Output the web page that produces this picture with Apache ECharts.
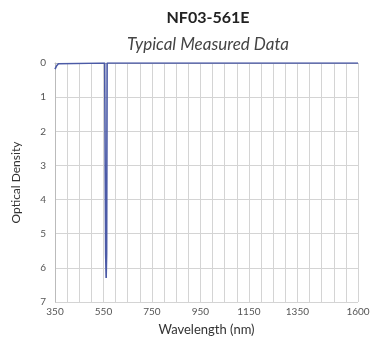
<!DOCTYPE html>
<html>
<head>
<meta charset="utf-8">
<script src="https://cdn.jsdelivr.net/npm/echarts@6/dist/echarts.min.js"></script>
<style>
  html, body { margin: 0; padding: 0; background: #fff; }
  #main { width: 373px; height: 343px; }
</style>
</head>
<body>
<div id="main"></div>
<script>
// data
var wavelength = [350, 353, 356, 360, 364, 368, 555, 557, 559, 561, 563, 565, 1600];
var od = [0.18, 0.13, 0.09, 0.05, 0.02, 0, 0, 3.0, 5.6, 6.3, 5.6, 0, 0];
var xLabels = [350, 550, 750, 950, 1150, 1350, 1600];

var pts = [];
for (var i = 0; i < wavelength.length; i++) {
  pts.push([wavelength[i], od[i]]);
}

var chart = echarts.init(document.getElementById('main'));
chart.setOption({
  animation: false,
  textStyle: { fontFamily: 'Lato, "Noto Sans", sans-serif' },
  title: [
    {
      text: 'NF03-561E', left: 203, top: 5, textAlign: 'center',
      textStyle: { fontSize: 16, fontWeight: 'bold', color: '#222' }
    },
    {
      text: 'Typical Measured Data', left: 203, top: 31, textAlign: 'center',
      textStyle: { fontSize: 17, fontWeight: 'normal', fontStyle: 'italic', color: '#444' }
    }
  ],
  grid: { left: 55, right: 15, top: 63, bottom: 41 },
  xAxis: {
    type: 'value', min: 350, max: 1600, interval: 50,
    name: 'Wavelength (nm)', nameLocation: 'middle', nameGap: 21,
    nameTextStyle: { fontSize: 13, color: '#333' },
    axisLine: { show: true, lineStyle: { color: '#bbb' } },
    axisTick: { show: false },
    splitLine: { show: true, lineStyle: { color: '#d4d4d4', width: 1 } },
    axisLabel: {
      fontSize: 10, color: '#555', margin: 5, showMaxLabel: true,
      formatter: function (v) { return xLabels.indexOf(v) >= 0 ? String(v) : ''; }
    }
  },
  yAxis: {
    type: 'value', min: 0, max: 7, interval: 1, inverse: true,
    name: 'Optical Density', nameLocation: 'middle', nameGap: 33,
    nameTextStyle: { fontSize: 12, color: '#333' },
    axisLine: { show: true, lineStyle: { color: '#bbb' } },
    axisTick: { show: false },
    splitLine: { show: true, lineStyle: { color: '#d4d4d4', width: 1 } },
    axisLabel: { fontSize: 10, color: '#555', margin: 9 }
  },
  series: [
    {
      type: 'line', data: pts, showSymbol: false,
      lineStyle: { color: '#4b5aa6', width: 1.6 }
    }
  ]
});
</script>
</body>
</html>
